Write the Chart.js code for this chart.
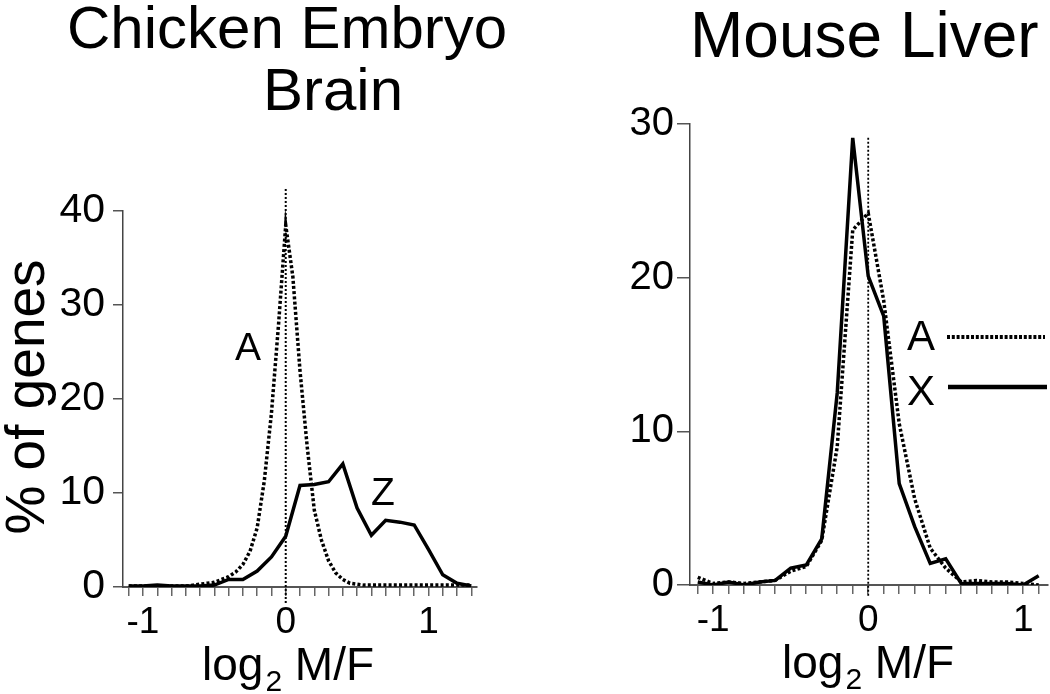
<!DOCTYPE html>
<html>
<head>
<meta charset="utf-8">
<script src="https://cdn.jsdelivr.net/npm/chart.js@4.4.0/dist/chart.umd.min.js"></script>
<style>
  body { margin: 0; background: #fff; }
  #wrap { position: relative; width: 1050px; height: 694px; }
  canvas { position: absolute; top: 0; }
  #brainChart { left: 0; }
  #liverChart { left: 525px; }
</style>
</head>
<body>
<div id="wrap">
  <canvas id="brainChart" width="525" height="694"></canvas>
  <canvas id="liverChart" width="525" height="694"></canvas>
</div>
<script>
// Chicken embryo brain: Z chromosome (solid), autosomes A (dotted)
const brainZBins = [-1.1, -1.0, -0.9, -0.8, -0.7, -0.6, -0.5, -0.4, -0.3, -0.2, -0.1, 0, 0.1, 0.2, 0.3, 0.4, 0.5, 0.6, 0.7, 0.8, 0.9, 1.0, 1.1, 1.2, 1.3];
const brainZ = [0.1, 0.1, 0.2, 0.1, 0.1, 0.1, 0.2, 0.8, 0.8, 1.7, 3.2, 5.4, 10.8, 10.9, 11.2, 13.1, 8.4, 5.5, 7.1, 6.9, 6.6, 4.0, 1.3, 0.4, 0.1];
const brainABins = [-1.1, -1.05, -1.0, -0.95, -0.9, -0.85, -0.8, -0.75, -0.7, -0.65, -0.6, -0.55, -0.5, -0.45, -0.4, -0.35, -0.3, -0.25, -0.2, -0.15, -0.1, -0.05, 0,
  0.05, 0.1, 0.15, 0.2, 0.25, 0.3, 0.35, 0.4, 0.45, 0.5, 0.55, 0.6, 0.65, 0.7, 0.75, 0.8, 0.85, 0.9, 0.95, 1.0, 1.05, 1.1, 1.15, 1.2, 1.25, 1.3];
const brainA = [0.1, 0.1, 0.1, 0.1, 0.1, 0.1, 0.1, 0.1, 0.1, 0.2, 0.3, 0.4, 0.5, 0.8, 1.1, 1.6, 2.4, 3.8, 6.3, 11.3, 18.5, 28, 38.5,
  33, 23, 15, 8.2, 5, 2.8, 1.5, 0.8, 0.4, 0.3, 0.2, 0.2, 0.2, 0.2, 0.2, 0.2, 0.2, 0.2, 0.2, 0.2, 0.2, 0.2, 0.2, 0.2, 0.2, 0.2];

// Mouse liver: X chromosome (solid), autosomes A (dotted)
const liverBins = [-1.1, -1.0, -0.9, -0.8, -0.7, -0.6, -0.5, -0.4, -0.3, -0.2, -0.1, 0, 0.1, 0.2, 0.3, 0.4, 0.5, 0.6, 0.7, 0.8, 0.9, 1.0, 1.1];
const liverX = [0.2, 0.0, 0.2, 0.0, 0.2, 0.3, 1.1, 1.3, 3.0, 12.5, 29.1, 20.1, 17.5, 6.6, 3.8, 1.4, 1.7, 0.1, 0.1, 0.1, 0.1, 0.0, 0.6];
const liverA = [0.5, 0.1, 0.2, 0.1, 0.2, 0.3, 0.9, 1.2, 2.9, 9.0, 23.1, 24.2, 18.5, 10.5, 5.6, 2.4, 1.1, 0.2, 0.3, 0.2, 0.2, 0.1, 0.0];

// dotted reference line at log2 M/F = 0
const brainRefY = [-1.7, 42.5];
const liverRefY = [-0.7, 29.2];

const xTickLabels = [-1, 0, 1];

Chart.defaults.font.family = '"Liberation Sans", Arial, sans-serif';
Chart.defaults.color = '#000';

function points(xs, ys) {
  return xs.map((x, i) => ({ x: x, y: ys[i] }));
}

function font(size) {
  return size + 'px "Liberation Sans", Arial, sans-serif';
}

function drawLog2(ctx, x, y) {
  ctx.textAlign = 'left';
  ctx.textBaseline = 'alphabetic';
  ctx.font = font(46);
  ctx.fillText('log', x, y);
  x += ctx.measureText('log').width + 2;
  ctx.font = font(30);
  ctx.fillText('2', x, y + 11);
  x += ctx.measureText('2').width;
  ctx.font = font(46);
  ctx.fillText(' M/F', x, y);
}

function textPlugin(draw) {
  return {
    id: 'texts',
    afterDraw(chart) {
      const ctx = chart.ctx;
      ctx.save();
      ctx.fillStyle = '#000';
      draw(ctx);
      ctx.restore();
    }
  };
}

function xScale(min, max) {
  return {
    type: 'linear',
    min: min,
    max: max,
    border: { color: '#555', width: 2 },
    grid: { drawOnChartArea: false, tickLength: 9, color: '#666', lineWidth: 1.5 },
    ticks: {
      stepSize: 0.1,
      includeBounds: false,
      autoSkip: false,
      maxRotation: 0,
      padding: 5,
      font: { size: 37 },
      callback: function (v) {
        const r = Math.round(v);
        return Math.abs(v - r) < 1e-6 && xTickLabels.includes(r) ? String(r) : '';
      }
    },
    afterFit: function (s) { s.height = 60; }
  };
}

function yScale(max, labelSize, tickLen, pad, width) {
  return {
    type: 'linear',
    min: 0,
    max: max,
    border: { color: '#444', width: 1.5 },
    grid: { drawOnChartArea: false, tickLength: tickLen, color: '#555', lineWidth: 1.5 },
    ticks: { stepSize: 10, padding: pad, font: { size: labelSize } },
    afterFit: function (s) { s.width = width; }
  };
}

const baseOptions = {
  responsive: false,
  animation: false,
  events: [],
  plugins: { legend: { display: false }, tooltip: { enabled: false } },
  elements: { point: { radius: 0 }, line: { tension: 0, borderColor: '#000' } }
};

new Chart(document.getElementById('brainChart'), {
  type: 'line',
  data: {
    datasets: [
      { data: points([0, 0], brainRefY), borderWidth: 2, borderDash: [2, 2], clip: false },
      { data: points(brainABins, brainA), borderWidth: 3.5, borderDash: [3, 2.2] },
      { data: points(brainZBins, brainZ), borderWidth: 3.5 }
    ]
  },
  options: Object.assign({}, baseOptions, {
    layout: { padding: { left: 0, top: 211, right: 48, bottom: 47 } },
    scales: {
      x: xScale(-1.14, 1.34),
      y: yScale(40, 41, 10, 8, 123)
    }
  }),
  plugins: [textPlugin(function (ctx) {
    ctx.textAlign = 'left';
    ctx.textBaseline = 'alphabetic';
    ctx.font = font(60);
    ctx.fillText('Chicken Embryo', 67, 48);
    ctx.fillText('Brain', 263, 110);
    ctx.textAlign = 'center';
    ctx.font = font(39);
    ctx.fillText('A', 248, 360);
    ctx.fillText('Z', 383, 505);
    drawLog2(ctx, 202, 680);
    ctx.save();
    ctx.translate(44, 397);
    ctx.rotate(-Math.PI / 2);
    ctx.textAlign = 'center';
    ctx.font = font(55);
    ctx.fillText('% of genes', 0, 0);
    ctx.restore();
  })]
});

new Chart(document.getElementById('liverChart'), {
  type: 'line',
  data: {
    datasets: [
      { data: points([0, 0], liverRefY), borderWidth: 1.8, borderDash: [2, 2], clip: false },
      { data: points(liverBins, liverA), borderWidth: 3.5, borderDash: [3, 2.2] },
      { data: points(liverBins, liverX), borderWidth: 3.5 }
    ]
  },
  options: Object.assign({}, baseOptions, {
    layout: { padding: { left: 0, top: 124, right: 2, bottom: 49 } },
    scales: {
      x: xScale(-1.15, 1.16),
      y: yScale(30, 40, 13, 3, 165)
    }
  }),
  plugins: [textPlugin(function (ctx) {
    ctx.textAlign = 'left';
    ctx.textBaseline = 'alphabetic';
    ctx.font = font(64);
    ctx.fillText('Mouse Liver', 165, 57);
    ctx.textAlign = 'center';
    ctx.font = font(42);
    ctx.fillText('A', 396, 350);
    ctx.fillText('X', 396, 405);
    // legend samples
    ctx.strokeStyle = '#000';
    ctx.lineWidth = 4;
    ctx.setLineDash([3, 1.8]);
    ctx.beginPath();
    ctx.moveTo(422, 337);
    ctx.lineTo(520, 337);
    ctx.stroke();
    ctx.setLineDash([]);
    ctx.lineWidth = 4.5;
    ctx.beginPath();
    ctx.moveTo(423, 387);
    ctx.lineTo(522, 387);
    ctx.stroke();
    drawLog2(ctx, 257, 678);
  })]
});
</script>
</body>
</html>
